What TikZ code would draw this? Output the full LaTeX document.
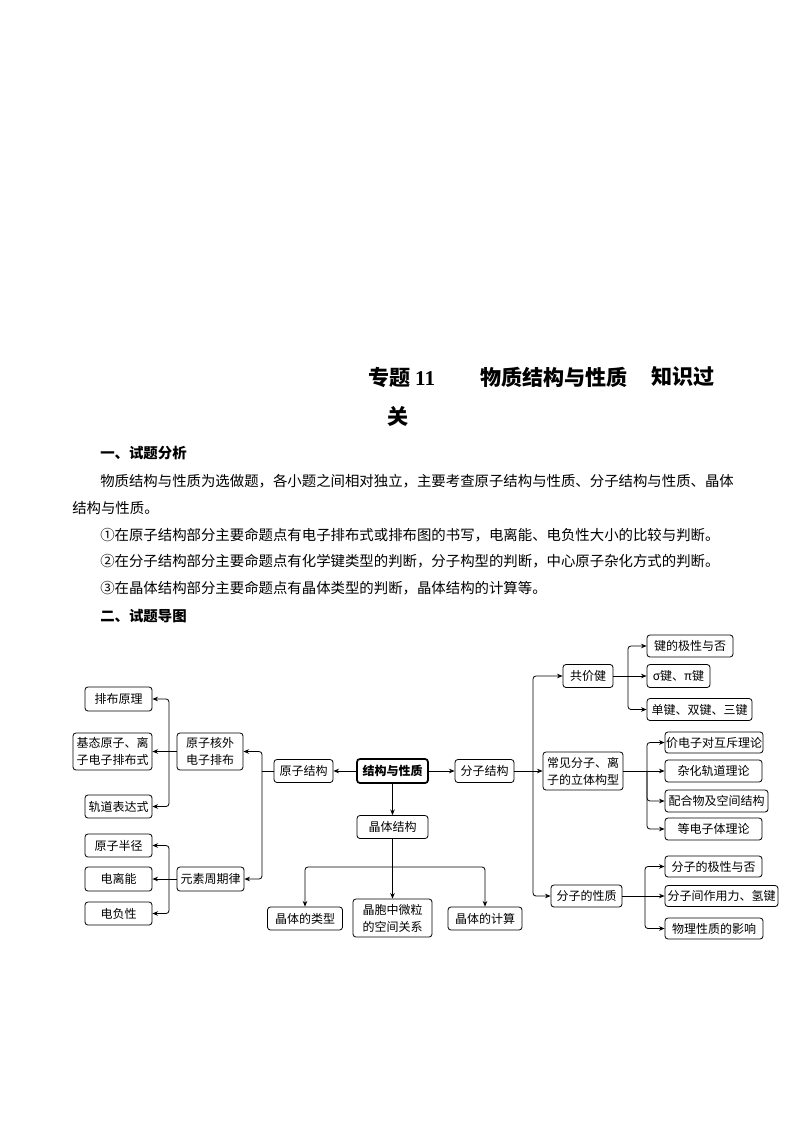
\documentclass[tikz,border=0pt]{standalone}
\usepackage{fontspec}
\setmainfont{Liberation Serif}
\newfontfamily\cjk{Noto Sans CJK SC}
\usetikzlibrary{arrows.meta}
\tikzset{
  box/.style={draw, rounded corners=2.2pt, line width=0.6pt, inner sep=0pt, align=center,
    font=\cjk\fontsize{9}{12.75}\selectfont},
  sz/.style n args={2}{minimum width=#1*0.75pt, minimum height=#2*0.75pt},
  arr/.style={line width=0.6pt, -{Stealth[length=4.2pt,width=3.4pt]}},
  ln/.style={line width=0.6pt},
  rc/.style={rounded corners=2.2pt},
  txt/.style={anchor=west, inner sep=0pt, font=\cjk\fontsize{10.8}{13}\selectfont},
  head/.style={anchor=west, inner sep=0pt, font=\cjk\bfseries\fontsize{10.8}{13}\selectfont},
  ttl/.style={anchor=west, inner sep=0pt, font=\cjk\bfseries\fontsize{15.8}{18}\selectfont}
}
\begin{document}
\begin{tikzpicture}[x=0.75pt,y=-0.75pt]
\useasboundingbox (0,0) rectangle (794,1123);
% title
\node[ttl] (t1) at (368,377) {专题 {\rmfamily\bfseries 11}};
\node[ttl] (t2) at (480,377) {物质结构与性质};
\node[ttl] (t3) at (651,377) {知识过};
\node[ttl] (t4) at (387,416) {关};
% text
\node[head] (h1) at (100,453) {一、试题分析};
\node[txt] (p1) at (100,481) {物质结构与性质为选做题，各小题之间相对独立，主要考查原子结构与性质、分子结构与性质、晶体};
\node[txt] (p2) at (72,508) {结构与性质。};
\node[txt] (p3) at (100,535) {①在原子结构部分主要命题点有电子排布式或排布图的书写，电离能、电负性大小的比较与判断。};
\node[txt] (p4) at (100,561) {②在分子结构部分主要命题点有化学键类型的判断，分子构型的判断，中心原子杂化方式的判断。};
\node[txt] (p5) at (100,588) {③在晶体结构部分主要命题点有晶体类型的判断，晶体结构的计算等。};
\node[head] (h2) at (100,616) {二、试题导图};

% center
\node[box, sz={71}{24}, line width=1.3pt, font=\cjk\bfseries\fontsize{9}{12.75}\selectfont] (jg) at (392.5,771) {结构与性质};
\node[box, sz={59}{23}] (yz) at (303.5,771) {原子结构};
\node[box, sz={59}{23}] (fz) at (484.5,771) {分子结构};
\node[box, sz={71}{23}] (jt) at (392.5,827) {晶体结构};
\node[box, sz={75}{23}] (lx) at (305,918.5) {晶体的类型};
\node[box, sz={79}{38}] (jb) at (392.5,918) {晶胞中微粒\\的空间关系};
\node[box, sz={74}{23}] (js) at (485,918.5) {晶体的计算};

% left
\node[box, sz={67}{24}] (pb) at (118.5,699) {排布原理};
\node[box, sz={79}{37}] (jt2) at (112.5,751.5) {基态原子、离\\子电子排布式};
\node[box, sz={67}{23}] (gd) at (118.5,806.5) {轨道表达式};
\node[box, sz={67}{23}] (bj) at (118.5,845.5) {原子半径};
\node[box, sz={67}{24}] (dln) at (118.5,879) {电离能};
\node[box, sz={67}{23}] (dfx) at (118.5,913.5) {电负性};
\node[box, sz={66}{37}] (hw) at (210,751.5) {原子核外\\电子排布};
\node[box, sz={67}{24}] (zq) at (210.5,879) {元素周期律};

% right
\node[box, sz={50}{23}] (gjj) at (588,676) {共价健};
\node[box, sz={86}{22}] (jjx) at (690,646) {键的极性与否};
\node[box, sz={63}{23}] (sig) at (678.5,676) {σ键、π键};
\node[box, sz={105}{22}] (dj) at (699.5,709.5) {单键、双键、三键};
\node[box, sz={80}{38}] (cj) at (583,771) {常见分子、离\\子的立体构型};
\node[box, sz={98}{21}] (vs) at (714,742.5) {价电子对互斥理论};
\node[box, sz={97}{22}] (zh) at (713.5,771) {杂化轨道理论};
\node[box, sz={103}{22}] (ph) at (716.5,801) {配合物及空间结构};
\node[box, sz={97}{22}] (dd) at (713.5,829) {等电子体理论};
\node[box, sz={71}{22}] (fxz) at (586.5,896) {分子的性质};
\node[box, sz={97}{21}] (jx) at (713.5,866.5) {分子的极性与否};
\node[box, sz={113}{21}] (zy) at (721.5,896) {分子间作用力、氢键};
\node[box, sz={98}{21}] (wl) at (714,928.5) {物理性质的影响};

% connectors center
\draw[arr] (jg.west) -- (yz.east);
\draw[arr] (jg.east) -- (fz.west);
\draw[arr] (jg.south) -- (jt.north);

% atomic structure
\coordinate (L1) at (262,771);
\draw[ln] (yz.west) -- (L1);
\draw[arr, rc] (L1) |- (hw.east);
\draw[arr, rc] (L1) |- (zq.east);
\coordinate (B1) at (169,751.5);
\draw[arr] (hw.west) -- (jt2.east);
\draw[arr, rc] (B1) |- (pb.east);
\draw[arr, rc] (B1) |- (gd.east);
\coordinate (B2) at (169,879);
\draw[arr] (zq.west) -- (dln.east);
\draw[arr, rc] (B2) |- (bj.east);
\draw[arr, rc] (B2) |- (dfx.east);

% crystal
\coordinate (B3) at (392.5,867);
\draw[arr] (jt.south) -- (jb.north);
\draw[arr, rc] (B3) -| (lx.north);
\draw[arr, rc] (B3) -| (js.north);

% molecular
\coordinate (B4) at (533,771);
\draw[arr] (fz.east) -- (cj.west);
\draw[arr, rc] (B4) |- (gjj.west);
\draw[arr, rc] (B4) |- (fxz.west);
\coordinate (B5) at (628,676);
\draw[arr] (gjj.east) -- (sig.west);
\draw[arr, rc] (B5) |- (jjx.west);
\draw[arr, rc] (B5) |- (dj.west);
\coordinate (B6) at (647,771);
\draw[arr] (cj.east) -- (zh.west);
\draw[arr, rc] (B6) |- (vs.west);
\draw[arr, rc] (B6) |- (ph.west);
\draw[arr, rc] (B6) |- (dd.west);
\coordinate (B7) at (645,896);
\draw[arr] (fxz.east) -- (zy.west);
\draw[arr, rc] (B7) |- (jx.west);
\draw[arr, rc] (B7) |- (wl.west);
\end{tikzpicture}
\end{document}
